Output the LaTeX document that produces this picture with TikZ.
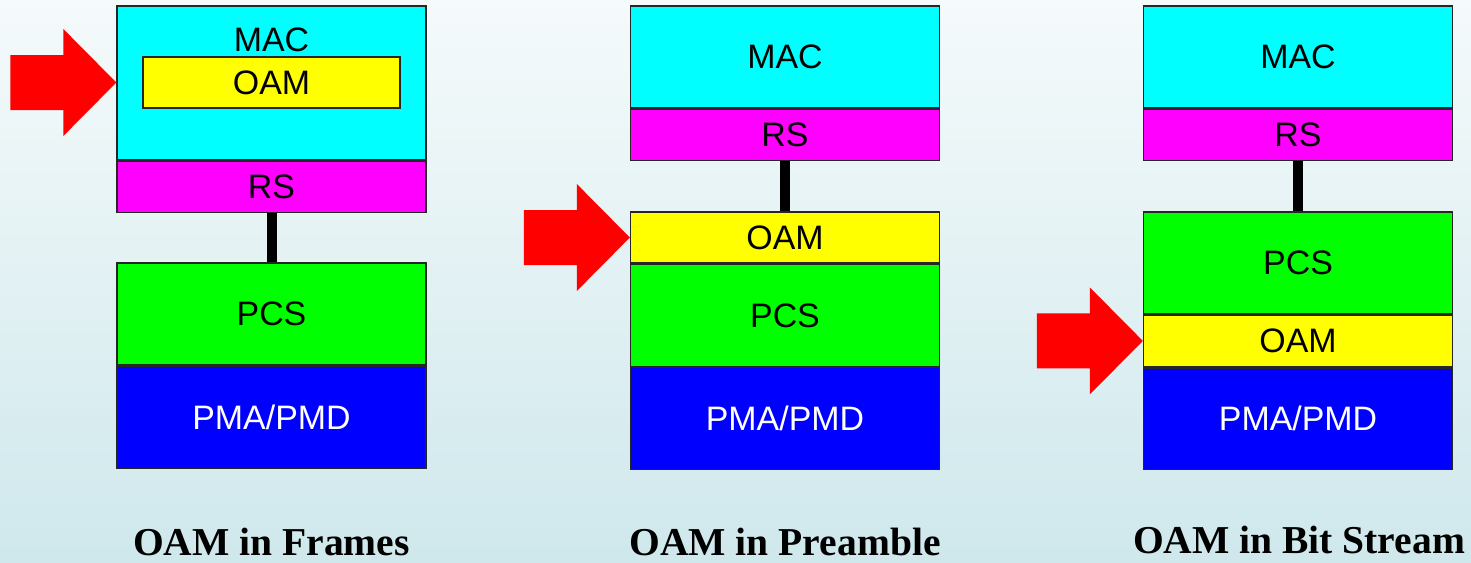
\documentclass[tikz,border=0pt]{standalone}
\usepackage{fontspec}
\setmainfont{Liberation Serif}
\setsansfont{Liberation Sans}
\usepackage{tikz}
\usetikzlibrary{positioning}
\definecolor{bgtop}{RGB}{245,250,251}
\definecolor{bgbottom}{RGB}{207,232,236}
\definecolor{maccyan}{RGB}{0,255,255}
\definecolor{rsmagenta}{RGB}{255,0,255}
\definecolor{oamyellow}{RGB}{255,255,0}
\definecolor{pcsgreen}{RGB}{0,255,0}
\definecolor{pmablue}{RGB}{0,0,255}
\definecolor{pushred}{RGB}{255,0,0}

\begin{document}
\begin{tikzpicture}[
    x=0.02cm, y=-0.02cm,
    layer/.style = {draw=black!85, line width=0.8pt, rectangle, minimum width=6.18cm, minimum height=1.02cm, inner sep=0pt, font=\sffamily\fontsize{19.3}{22}\selectfont, text height=13.3pt, text depth=0pt},
    tall/.style = {layer, minimum height=2.04cm},
    % Style cho cac lop
    mac_box/.style = {tall, fill=maccyan},
    rs_box/.style = {layer, fill=rsmagenta},
    oam_box/.style = {layer, fill=oamyellow},
    pcs_box/.style = {tall, fill=pcsgreen},
    pma_box/.style = {tall, fill=pmablue, text=white},
    link/.style = {line width=0.2cm, black},
    push/.style = {fill=pushred},
    caption/.style = {font=\bfseries\fontsize{22.5}{26}\selectfont, text height=14.9pt, text depth=0pt, inner sep=0pt}
]

% --- Nen ---
\useasboundingbox (0,0) rectangle (1471,562);
\shade[top color=bgtop, bottom color=bgbottom] (0,0) rectangle (1471,562);

% --- Cot 1: OAM in Frames ---
\node[mac_box, minimum height=3.08cm] (mac1) at (271.5, 83) {};
\node[layer, draw=none, minimum width=0pt, minimum height=0pt] (maclabel1) at (271.5, 39.5) {MAC};
\node[oam_box, minimum width=5.14cm] (oam1) at (271.5, 82.5) {OAM};
\node[rs_box, below=0pt of mac1] (rs1) {RS};
\node[pcs_box] (pcs1) at (271.5, 314) {PCS};
\node[pma_box, below=0pt of pcs1] (pma1) {PMA/PMD};
\draw[link] (rs1.south) -- (pcs1.north);
\fill[push] (mac1.west |- oam1.west) -- ++(-53,-53.5) -- ++(0,26) -- ++(-53,0) -- ++(0,55) -- ++(53,0) -- ++(0,26) -- cycle;
\node[caption] (title1) at (271.5, 542.5) {OAM in Frames};

% --- Cot 2: OAM in Preamble ---
\node[mac_box] (mac2) at (785, 57) {MAC};
\node[rs_box, below=0pt of mac2] (rs2) {RS};
\node[oam_box] (oam2) at (785, 237.5) {OAM};
\node[pcs_box, below=0pt of oam2] (pcs2) {PCS};
\node[pma_box, below=0pt of pcs2] (pma2) {PMA/PMD};
\draw[link] (rs2.south) -- (oam2.north);
\fill[push] (oam2.west) -- ++(-53,-53.5) -- ++(0,26) -- ++(-53,0) -- ++(0,55) -- ++(53,0) -- ++(0,26) -- cycle;
\node[caption] (title2) at (785, 542.5) {OAM in Preamble};

% --- Cot 3: OAM in Bit Stream ---
\node[mac_box] (mac3) at (1298, 57) {MAC};
\node[rs_box, below=0pt of mac3] (rs3) {RS};
\node[pcs_box] (pcs3) at (1298, 263) {PCS};
\node[oam_box, below=0pt of pcs3] (oam3) {OAM};
\node[pma_box, below=0pt of oam3] (pma3) {PMA/PMD};
\draw[link] (rs3.south) -- (pcs3.north);
\fill[push] (oam3.west) -- ++(-53,-53.5) -- ++(0,26) -- ++(-53,0) -- ++(0,55) -- ++(53,0) -- ++(0,26) -- cycle;
\node[caption] (title3) at (1299, 540.5) {OAM in Bit Stream};

\end{tikzpicture}
\end{document}
